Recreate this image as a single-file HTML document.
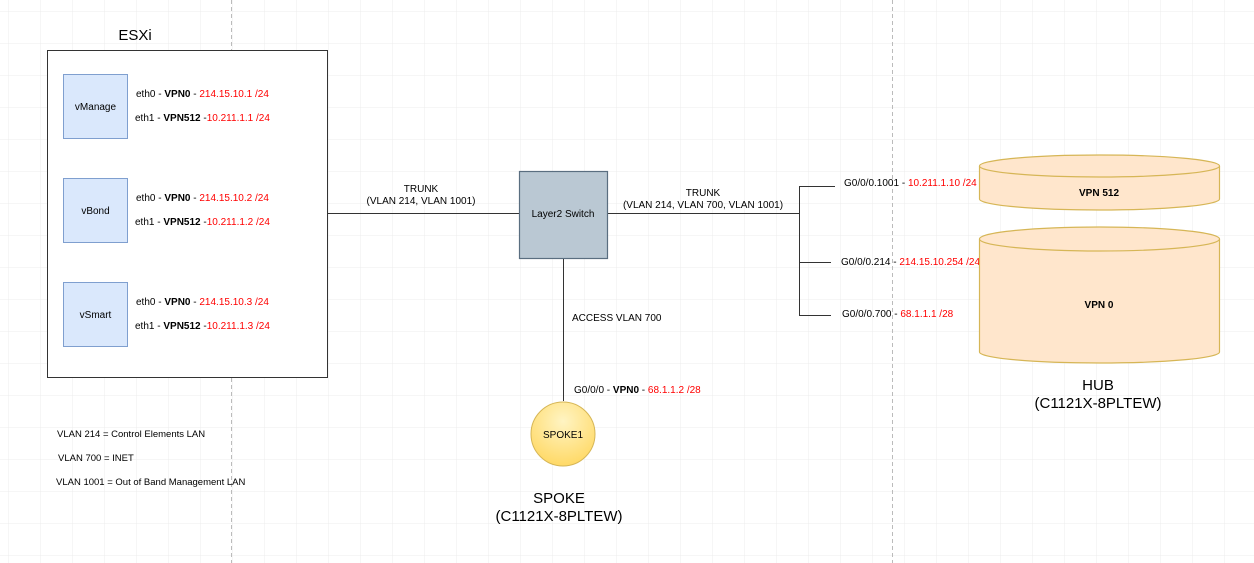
<!DOCTYPE html>
<html><head><meta charset="utf-8"><style>
html,body{margin:0;padding:0;background:#fff}
svg{display:block;font-family:"Liberation Sans",Arial,sans-serif}
</style></head><body>
<svg width="1254" height="563" xmlns="http://www.w3.org/2000/svg">
<defs>
<pattern id="g" x="8" y="11" width="32" height="32" patternUnits="userSpaceOnUse">
<path d="M0 0H32M0 0V32" stroke="#ececec" stroke-width="1" fill="none"/>
</pattern>
<radialGradient id="cg" cx="50%" cy="30%" r="70%">
<stop offset="0" stop-color="#fff4c3"/><stop offset="1" stop-color="#ffd966"/>
</radialGradient>
</defs>
<rect width="1254" height="563" fill="url(#g)"/>
<line x1="231.5" y1="0" x2="231.5" y2="563" stroke="#bbb" stroke-dasharray="4 3"/>
<line x1="892.5" y1="0" x2="892.5" y2="563" stroke="#bbb" stroke-dasharray="4 3"/>

<text x="135" y="40" font-size="15" text-anchor="middle">ESXi</text>
<rect x="47.5" y="50.5" width="280" height="327" fill="#fff" stroke="#333"/>

<g fill="#dae8fc" stroke="#7f9fcf">
<rect x="63.5" y="74.5" width="64" height="64"/>
<rect x="63.5" y="178.5" width="64" height="64"/>
<rect x="63.5" y="282.5" width="64" height="64"/>
</g>
<g font-size="10" text-anchor="middle">
<text x="95.5" y="110">vManage</text>
<text x="95.5" y="214">vBond</text>
<text x="95.5" y="318">vSmart</text>
</g>
<g font-size="10">
<text x="136" y="97">eth0 - <tspan font-weight="bold">VPN0</tspan> - <tspan fill="#f00">214.15.10.1 /24</tspan></text>
<text x="135" y="121">eth1 - <tspan font-weight="bold">VPN512</tspan> -<tspan fill="#f00">10.211.1.1 /24</tspan></text>
<text x="136" y="201">eth0 - <tspan font-weight="bold">VPN0</tspan> - <tspan fill="#f00">214.15.10.2 /24</tspan></text>
<text x="135" y="225">eth1 - <tspan font-weight="bold">VPN512</tspan> -<tspan fill="#f00">10.211.1.2 /24</tspan></text>
<text x="136" y="305">eth0 - <tspan font-weight="bold">VPN0</tspan> - <tspan fill="#f00">214.15.10.3 /24</tspan></text>
<text x="135" y="329">eth1 - <tspan font-weight="bold">VPN512</tspan> -<tspan fill="#f00">10.211.1.3 /24</tspan></text>
</g>

<g stroke="#333" fill="none">
<line x1="327" y1="213.5" x2="519" y2="213.5"/>
<line x1="607" y1="213.5" x2="799" y2="213.5"/>
<path d="M835 186.5H799.5V315.5H831M799.5 262.5H831"/>
<line x1="563.5" y1="258" x2="563.5" y2="401"/>
</g>
<g font-size="10" text-anchor="middle">
<text x="421" y="192">TRUNK</text>
<text x="421" y="204">(VLAN 214, VLAN 1001)</text>
<text x="703" y="196">TRUNK</text>
<text x="703" y="208">(VLAN 214, VLAN 700, VLAN 1001)</text>
</g>
<rect x="519.5" y="171.5" width="88" height="87" fill="#bac8d3" stroke="#5a6e80" stroke-width="1.2"/>
<text x="563" y="217" font-size="10" text-anchor="middle">Layer2 Switch</text>

<g font-size="10">
<text x="844" y="186">G0/0/0.1001 - <tspan fill="#f00">10.211.1.10 /24</tspan></text>
<text x="841" y="265">G0/0/0.214 - <tspan fill="#f00">214.15.10.254 /24</tspan></text>
<text x="842" y="317">G0/0/0.700 - <tspan fill="#f00">68.1.1.1 /28</tspan></text>
<text x="572" y="321">ACCESS VLAN 700</text>
<text x="574" y="393">G0/0/0 - <tspan font-weight="bold">VPN0</tspan> - <tspan fill="#f00">68.1.1.2 /28</tspan></text>
</g>

<g fill="#ffe6cc" stroke="#d6b656" stroke-width="1.2">
<path d="M979.5 166V199A120 11 0 0 0 1219.5 199V166"/>
<ellipse cx="1099.5" cy="166" rx="120" ry="11"/>
<path d="M979.5 239V352A120 11 0 0 0 1219.5 352V239"/>
<ellipse cx="1099.5" cy="239" rx="120" ry="12"/>
</g>
<g font-size="10" font-weight="bold" text-anchor="middle">
<text x="1099" y="196">VPN 512</text>
<text x="1099" y="308">VPN 0</text>
</g>
<g font-size="15" text-anchor="middle">
<text x="1098" y="390">HUB</text>
<text x="1098" y="408">(C1121X-8PLTEW)</text>
<text x="559" y="503">SPOKE</text>
<text x="559" y="521">(C1121X-8PLTEW)</text>
</g>

<circle cx="563" cy="434" r="32" fill="url(#cg)" stroke="#d6b656"/>
<text x="563" y="438" font-size="10" text-anchor="middle">SPOKE1</text>

<g font-size="9.5">
<text x="57" y="437">VLAN 214 = Control Elements LAN</text>
<text x="58" y="461">VLAN 700 = INET</text>
<text x="56" y="485">VLAN 1001 = Out of Band Management LAN</text>
</g>
</svg>
</body></html>
